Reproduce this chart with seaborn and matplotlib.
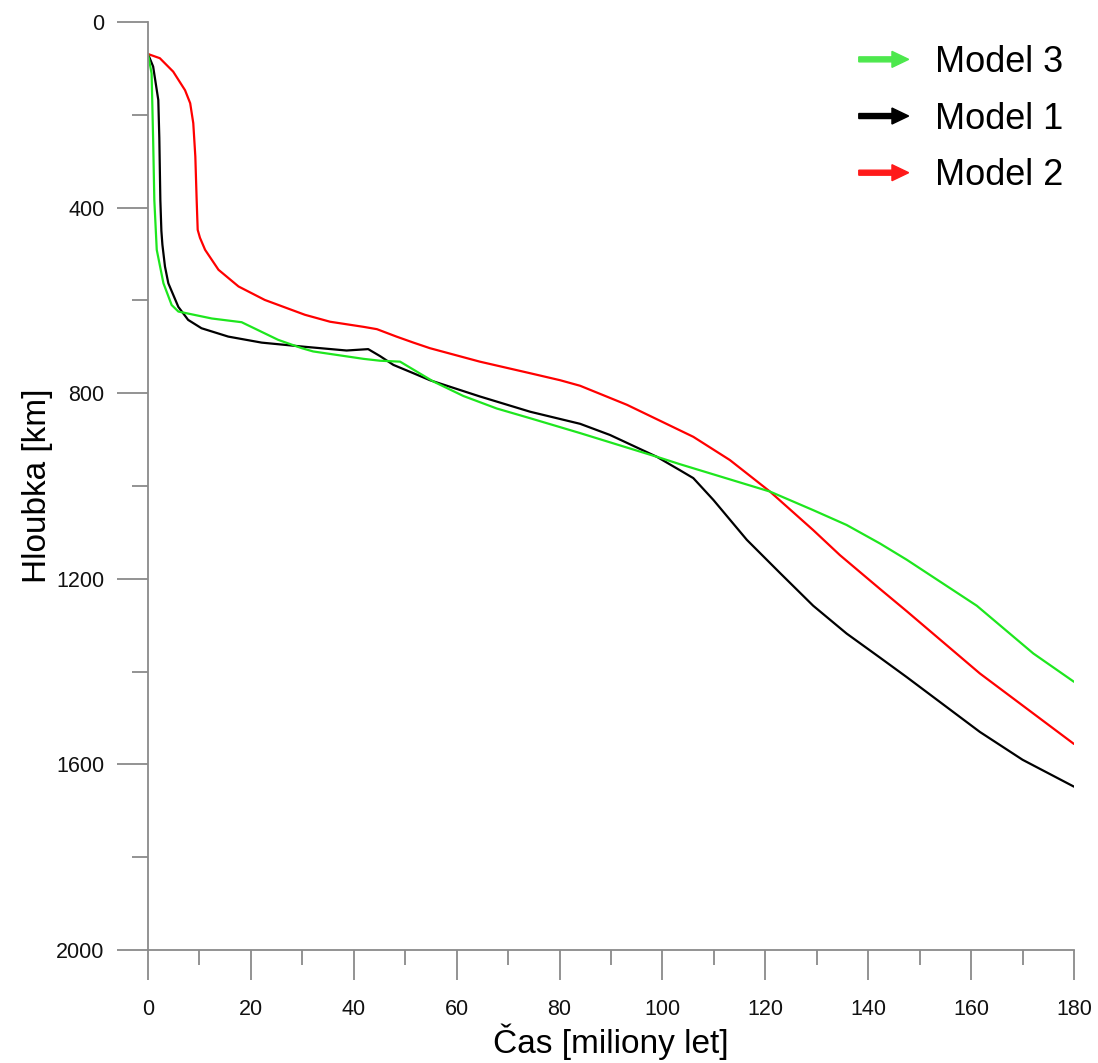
import numpy as np
import pandas as pd
import seaborn as sns
import matplotlib
matplotlib.use("Agg")
import matplotlib.pyplot as plt
import matplotlib.patches as mpatches
from matplotlib.legend_handler import HandlerPatch
from matplotlib.ticker import MultipleLocator

# ---- data ----
model1_t = [0, 1.0, 2.0, 2.2, 2.4, 2.6, 2.8, 3.3, 3.95, 5.9, 7.8, 10.4, 15.6, 22.1, 30.5, 38.6, 42.8,
            45.1, 47.7, 51.6, 54.8, 64.5, 74.3, 84.0, 89.8, 98.9, 103.4, 106.0, 109.9, 116.4,
            122.9, 129.3, 135.8, 142.3, 147.5, 161.7, 170.0, 180.0]
model1_d = [69, 96, 168, 250, 384, 450, 480, 527, 563, 614, 642, 660, 678, 691, 700, 708, 705,
            720, 739, 757, 772, 807, 840, 866, 890, 937, 966, 983, 1030, 1116,
            1188, 1258, 1318, 1370, 1412, 1530, 1590, 1648]

model2_t = [0, 2.3, 4.9, 7.2, 8.2, 8.8, 9.2, 9.46, 9.66, 10.1, 11.1, 13.7, 17.6, 22.7, 30.5, 35.4,
            41.9, 44.5, 48.3, 51.6, 54.8, 64.5, 74.3, 80.1, 84.0, 93.1, 106.0, 113.1, 120.9, 129.3,
            134.5, 142.3, 147.5, 161.7, 180.0]
model2_d = [69, 78, 107, 147, 175, 218, 290, 384, 448, 465, 491, 534, 570, 599, 631, 646,
            657, 662, 678, 691, 703, 732, 757, 772, 784, 825, 894, 944, 1012, 1095,
            1149, 1222, 1270, 1404, 1556]

model3_t = [0, 0.7, 1.0, 1.23, 1.7, 3.0, 4.6, 5.9, 12.4, 18.2, 25.3, 29.9, 32.1, 41.9, 45.1, 49.0,
            55.5, 61.3, 67.8, 74.3, 84.0, 98.9, 103.4, 120.9, 129.3, 135.8, 142.3, 147.5, 161.1,
            172.1, 180.0]
model3_d = [69, 111, 254, 384, 491, 563, 610, 624, 639, 647, 685, 703, 710, 726, 730, 732,
            775, 806, 833, 854, 886, 937, 953, 1012, 1052, 1084, 1124, 1159, 1258,
            1361, 1422]

series_names = ["Model 1", "Model 2", "Model 3"]
legend_order = ["Model 3", "Model 1", "Model 2"]
colors = {"Model 1": "#000000", "Model 2": "#ff0000", "Model 3": "#1ee61e"}
legend_colors = {"Model 1": "#000000", "Model 2": "#ff1a1a", "Model 3": "#4de84d"}

x_label = "Čas [miliony let]"
y_label = "Hloubka [km]"

df = pd.concat([
    pd.DataFrame({"t": model1_t, "d": model1_d, "model": "Model 1"}),
    pd.DataFrame({"t": model2_t, "d": model2_d, "model": "Model 2"}),
    pd.DataFrame({"t": model3_t, "d": model3_d, "model": "Model 3"}),
], ignore_index=True)

sns.set_style("white")
plt.rcParams["font.family"] = ["Liberation Sans", "DejaVu Sans"]

fig = plt.figure(figsize=(10.98, 10.63), dpi=100)
ax = fig.add_axes([148 / 1098, 113 / 1063, 926 / 1098, 928 / 1063])

sns.lineplot(data=df, x="t", y="d", hue="model", hue_order=series_names,
             palette=colors, estimator=None, sort=False, linewidth=1.6,
             legend=False, ax=ax)
for ln in ax.get_lines():
    ln.set_solid_joinstyle("round")

ax.set_xlim(0, 180)
ax.set_ylim(2000, 0)
ax.xaxis.set_major_locator(MultipleLocator(20))
ax.xaxis.set_minor_locator(MultipleLocator(10))
ax.yaxis.set_major_locator(MultipleLocator(400))
ax.yaxis.set_minor_locator(MultipleLocator(200))

spine_col = "#8a8a8a"
for s in ["top", "right"]:
    ax.spines[s].set_visible(False)
for s in ["left", "bottom"]:
    ax.spines[s].set_color(spine_col)
    ax.spines[s].set_linewidth(1.3)

ax.tick_params(axis="both", which="major", direction="out", color=spine_col, width=1.3,
               labelsize=15.5, labelcolor="#111111")
ax.tick_params(axis="x", which="major", length=21.6, pad=14)
ax.tick_params(axis="x", which="minor", length=10.8, width=1.3, color=spine_col, direction="out")
ax.tick_params(axis="y", which="major", length=22.3, pad=9)
ax.tick_params(axis="y", which="minor", length=11.5, width=1.3, color=spine_col, direction="out")
ax.tick_params(bottom=True, left=True, which="both")

ax.set_xlabel(x_label, fontsize=24, labelpad=2, color="#000000")
ax.set_ylabel(y_label, fontsize=24, labelpad=2, color="#000000")
ax.grid(False)


def make_arrow(legend, orig_handle, xdescent, ydescent, width, height, fontsize):
    return mpatches.FancyArrow(-xdescent, height / 2 - ydescent, width, 0,
                               width=3.6, head_width=11.5, head_length=12,
                               length_includes_head=True, linewidth=0)


handles = [mpatches.Patch(color=legend_colors[m]) for m in legend_order]
leg = fig.legend(handles, legend_order, loc="upper right", bbox_to_anchor=(1063 / 1098, 1 - 45 / 1063),
                 frameon=False, fontsize=26, handlelength=1.38, handletextpad=0.72,
                 labelspacing=0.6, borderpad=0, borderaxespad=0, labelcolor="#000000",
                 handler_map={mpatches.Patch: HandlerPatch(patch_func=make_arrow)})

fig.savefig("out.png", dpi=100)
